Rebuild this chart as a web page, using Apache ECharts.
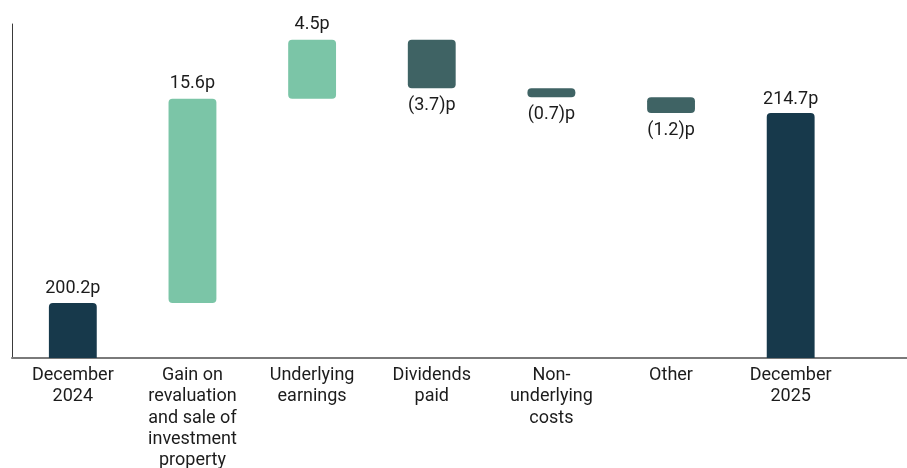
<!DOCTYPE html>
<html>
<head>
<meta charset="utf-8">
<title>NTA per share bridge</title>
<script src="https://cdn.jsdelivr.net/npm/echarts@6/dist/echarts.min.js"></script>
<style>
  html, body { margin: 0; padding: 0; background: #ffffff; }
  #chart { width: 907px; height: 468px; }
</style>
</head>
<body>
<div id="chart"></div>
<script>
// Bridge categories (x-axis)
const categories = [
  'December\n2024',
  'Gain on\nrevaluation\nand sale of\ninvestment\nproperty',
  'Underlying\nearnings',
  'Dividends\npaid',
  'Non-\nunderlying\ncosts',
  'Other',
  'December\n2025'
];

// Opening and closing values (pence per share)
const openingValue = 200.2;
const closingValue = 214.7;

// Movements between the two totals (pence per share)
const movements = [15.6, 4.5, -3.7, -0.7, -1.2];

const COLOR_TOTAL = '#17394b';
const COLOR_UP = '#7bc5a7';
const COLOR_DOWN = '#3f6364';
const TEXT = '#1c1c1c';
const FONT = 'Roboto, "Liberation Sans", sans-serif';

const round1 = v => Math.round(v * 10) / 10;
const fmt = v => v < 0 ? '(' + Math.abs(v).toFixed(1) + ')p' : v.toFixed(1) + 'p';

// Build invisible offsets and visible bar heights for the waterfall
const baseData = [0];
const barData = [{
  value: openingValue,
  signed: openingValue,
  itemStyle: { color: COLOR_TOTAL, borderRadius: [4, 4, 0, 0] },
  label: { position: 'top' }
}];
let running = openingValue;
movements.forEach(m => {
  const next = round1(running + m);
  baseData.push(Math.min(running, next));
  barData.push({
    value: Math.abs(m),
    signed: m,
    itemStyle: { color: m >= 0 ? COLOR_UP : COLOR_DOWN, borderRadius: 4 },
    label: { position: m >= 0 ? 'top' : 'bottom', distance: m >= 0 ? 6 : 8 }
  });
  running = next;
});
baseData.push(0);
barData.push({
  value: closingValue,
  signed: closingValue,
  itemStyle: { color: COLOR_TOTAL, borderRadius: [4, 4, 0, 0] },
  label: { position: 'top' }
});

const chart = echarts.init(document.getElementById('chart'), null, { renderer: 'canvas' });

chart.setOption({
  animation: false,
  backgroundColor: '#ffffff',
  grid: [
    // frame grid: carries the full-width baseline and the left axis line
    { left: 12, right: 0, top: 24, bottom: 110, outerBoundsMode: 'none' },
    // plotting grid
    { left: 13, width: 837.5, top: 24, bottom: 110, outerBoundsMode: 'none' }
  ],
  xAxis: [
    {
      gridIndex: 0, type: 'value', min: 0, max: 1,
      axisLine: { show: true, lineStyle: { color: '#7a7a7a', width: 2 } },
      axisTick: { show: false }, axisLabel: { show: false }, splitLine: { show: false }
    },
    {
      gridIndex: 1, type: 'category', data: categories,
      axisLine: { show: false }, axisTick: { show: false },
      axisLabel: {
        interval: 0, margin: 7, color: TEXT, fontFamily: FONT,
        fontSize: 18, lineHeight: 21.3, align: 'center'
      }
    }
  ],
  yAxis: [
    {
      gridIndex: 0, type: 'value', min: 196, max: 221.5,
      axisLine: { show: true, lineStyle: { color: '#3a3a3a', width: 1 } },
      axisTick: { show: false }, axisLabel: { show: false }, splitLine: { show: false }
    },
    {
      gridIndex: 1, type: 'value', min: 196, max: 221.5,
      axisLine: { show: false }, axisTick: { show: false },
      axisLabel: { show: false }, splitLine: { show: false }
    }
  ],
  series: [
    {
      name: 'offset', type: 'bar', stack: 'bridge',
      xAxisIndex: 1, yAxisIndex: 1,
      data: baseData, barWidth: '40%',
      itemStyle: { color: 'transparent' },
      emphasis: { disabled: true }, silent: true
    },
    {
      name: 'movement', type: 'bar', stack: 'bridge',
      xAxisIndex: 1, yAxisIndex: 1,
      data: barData, barWidth: '40%',
      label: {
        show: true, distance: 5, color: TEXT, fontFamily: FONT, fontSize: 18,
        formatter: p => fmt(p.data.signed)
      }
    }
  ]
});
</script>
</body>
</html>
